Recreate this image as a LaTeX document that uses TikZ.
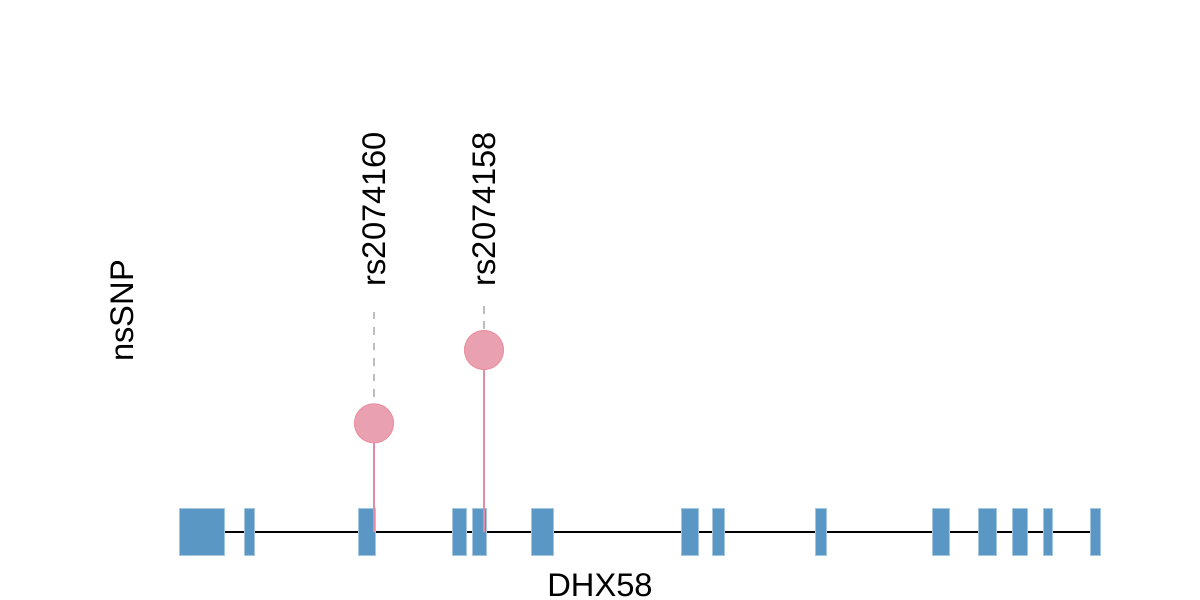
\documentclass[tikz,border=0pt]{standalone}
\usepackage{fontspec}
\setmainfont{Liberation Sans}
\usepackage{tikz}
\definecolor{exonblue}{RGB}{91,151,196}
\definecolor{snppink}{RGB}{233,161,177}
\definecolor{stempink}{RGB}{227,139,166}
\definecolor{guidegray}{RGB}{190,190,190}
\tikzset{
	exon/.style={fill=exonblue, draw=exonblue!55!white, line width=0.25pt},
	snp/.style={circle, fill=snppink, draw=snppink!90!red, line width=0.3pt, minimum size=0.39cm, inner sep=0},
	stem/.style={color=stempink, line width=0.6pt},
	guide/.style={color=guidegray, dashed, dash pattern=on 2.2pt off 2.2pt, line width=0.6pt},
	snplabel/.style={rotate=90, anchor=west, inner sep=0, font=\fontsize{9.3}{11}\selectfont}
}

\begin{document}
\begin{tikzpicture}
			%%%%% START %%%%%
			\useasboundingbox (0, 0) rectangle (12, 6);
			
			\draw[line width=0.6pt] (2.24, 0.68) -- (10.92, 0.68);
			
			\draw[exon] (1.79, 0.45) rectangle (2.24, 0.917);
			\draw[exon] (2.443, 0.45) rectangle (2.54, 0.917);
			\draw[exon] (3.58, 0.45) rectangle (3.75, 0.917);
			\draw[exon] (4.52, 0.45) rectangle (4.667, 0.917);
			\draw[exon] (4.727, 0.45) rectangle (4.863, 0.917);
			\draw[exon] (5.313, 0.45) rectangle (5.533, 0.917);
			\draw[exon] (6.817, 0.45) rectangle (6.987, 0.917);
			\draw[exon] (7.12, 0.45) rectangle (7.24, 0.917);
			\draw[exon] (8.157, 0.45) rectangle (8.267, 0.917);
			\draw[exon] (9.32, 0.45) rectangle (9.49, 0.917);
			\draw[exon] (9.78, 0.45) rectangle (9.96, 0.917);
			\draw[exon] (10.127, 0.45) rectangle (10.277, 0.917);
			\draw[exon] (10.433, 0.45) rectangle (10.527, 0.917);
			\draw[exon] (10.9, 0.45) rectangle (11.0, 0.917);
			
			\node[font=\fontsize{9.3}{11}\selectfont] (gene) at (6, 0.15) {DHX58};
			\node[rotate=90, font=\fontsize{9.3}{11}\selectfont] (track) at (1.22, 2.89) {nsSNP};
			
			% rs2074160
			\coordinate (base1) at (3.74, 0.68);
			\coordinate (top1) at (3.74, 2.883);
			\node[snp] (dot1) at (3.74, 1.767) {};
			\draw[stem] (base1) -- (dot1);
			\draw[guide] (top1) -- (dot1);
			\node[snplabel] (lab1) at (3.74, 3.13) {rs2074160};
			
			% rs2074158
			\coordinate (base2) at (4.84, 0.68);
			\coordinate (top2) at (4.84, 2.94);
			\node[snp] (dot2) at (4.84, 2.5) {};
			\draw[stem] (base2) -- (dot2);
			\draw[guide] (top2) -- (dot2);
			\node[snplabel] (lab2) at (4.84, 3.13) {rs2074158};
			
			%%%%% END %%%%%
		\end{tikzpicture}
\end{document}
